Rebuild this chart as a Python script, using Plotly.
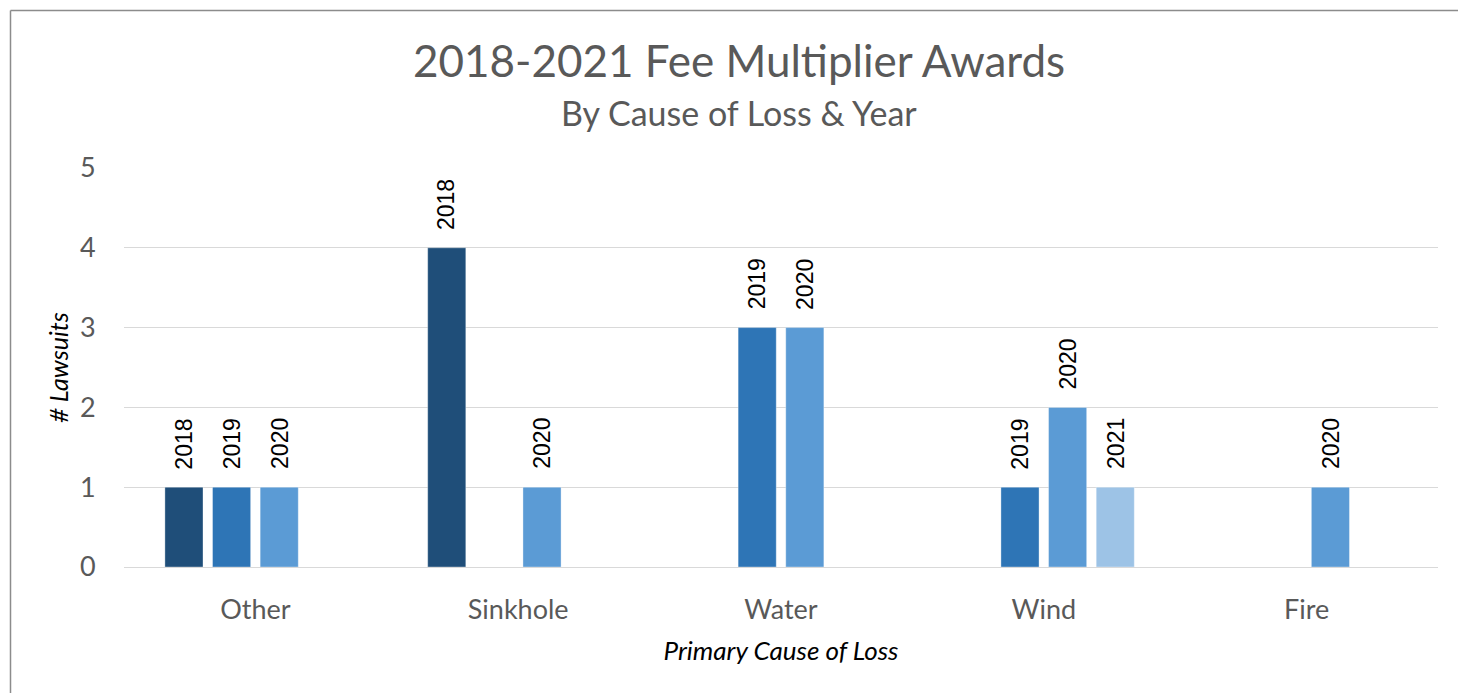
import plotly.graph_objects as go

categories = ["Other", "Sinkhole", "Water", "Wind", "Fire"]
years = ["2018", "2019", "2020", "2021"]
v2018 = [1, 4, None, None, None]
v2019 = [1, None, 3, 1, None]
v2020 = [1, 1, 3, 2, 1]
v2021 = [None, None, None, 1, None]
series = [v2018, v2019, v2020, v2021]
colors = ["#1F4E79", "#2E75B6", "#5B9BD5", "#9DC3E6"]

title_text = "2018-2021 Fee Multiplier Awards"
subtitle_text = "By Cause of Loss & Year"
x_title = "Primary Cause of Loss"
y_title = "# Lawsuits"

BARGAP = 0.275
GROUPGAP = 0.2
FONT = "Lato"

W, H = 1458, 693
L, R, T, B = 124, W - 1438, 168, H - 567
PH = 567 - 168
PW = 1438 - 124

fig = go.Figure()
for yr, vals, col in zip(years, series, colors):
    fig.add_trace(go.Bar(
        x=categories, y=vals, name=yr,
        marker=dict(color=col, line=dict(color="rgba(255,255,255,0.35)", width=1)),
    ))

slot = (1 - BARGAP) / len(years)
annotations = []
for k, (yr, vals) in enumerate(zip(years, series)):
    for i, v in enumerate(vals):
        if v is None:
            continue
        annotations.append(dict(
            x=i - (1 - BARGAP) / 2 + (k + 0.5) * slot, y=v, xref="x", yref="y",
            text=yr, showarrow=False, textangle=-90,
            xanchor="center", yanchor="bottom", yshift=16,
            font=dict(family="Liberation Sans", size=23, color="#000000"),
        ))

annotations.append(dict(
    x=(738.5 - 124) / PW, y=(567 - 60) / PH, xref="paper", yref="paper",
    text=title_text, showarrow=False, xanchor="center", yanchor="middle",
    font=dict(family=FONT, size=44, color="#595959"),
))
annotations.append(dict(
    x=(738.5 - 124) / PW, y=(567 - 113) / PH, xref="paper", yref="paper",
    text=subtitle_text, showarrow=False, xanchor="center", yanchor="middle",
    font=dict(family=FONT, size=34, color="#595959"),
))

bx = (10.5 - 124) / PW
by = (567 - 10.5) / PH
border = dict(color="#8C8C8C", width=1.5)
fig.update_layout(
    width=W, height=H,
    margin=dict(l=L, r=R, t=T, b=B),
    paper_bgcolor="white", plot_bgcolor="white",
    barmode="group", bargap=BARGAP, bargroupgap=GROUPGAP,
    showlegend=False,
    annotations=annotations,
    shapes=[
        dict(type="line", xref="paper", yref="paper", x0=bx, x1=1.2, y0=by, y1=by, line=border, layer="below"),
        dict(type="line", xref="paper", yref="paper", x0=bx, x1=bx, y0=by, y1=-0.6, line=border, layer="below"),
    ],
    font=dict(family=FONT),
)
fig.update_xaxes(
    showgrid=False, showline=False, zeroline=False,
    ticks="outside", ticklen=19, tickcolor="rgba(0,0,0,0)",
    tickfont=dict(family=FONT, size=27, color="#595959"),
    title=dict(text=x_title, font=dict(family=FONT, size=26, color="#000000", style="italic"), standoff=17),
)
fig.update_yaxes(
    range=[0, 5], dtick=1, showgrid=True, gridcolor="#D9D9D9", gridwidth=1.3,
    zeroline=True, zerolinecolor="#D9D9D9", zerolinewidth=1.3, showline=False,
    ticks="outside", ticklen=22, tickcolor="rgba(0,0,0,0)",
    tickfont=dict(family=FONT, size=27, color="#595959"),
    title=dict(text=y_title, font=dict(family=FONT, size=25, color="#000000", style="italic"), standoff=4),
)

fig.write_html(
    "out.html",
    config={"displayModeBar": False},
    post_script="document.body.style.margin='0';document.body.style.overflow='hidden';",
)
